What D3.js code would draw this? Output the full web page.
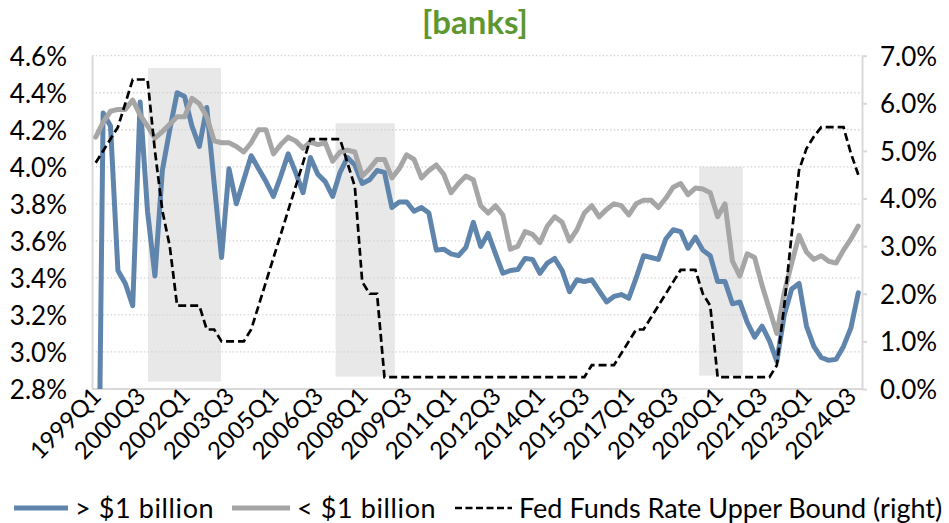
<!DOCTYPE html>
<html><head><meta charset="utf-8">
<script src="https://cdn.jsdelivr.net/npm/d3@7"></script>
<style>
body{margin:0;background:#fff}
text{font-family:Lato,"Open Sans",sans-serif;fill:#000}
</style>
</head><body>
<svg id="chart" width="949" height="523"></svg>
<script>
// ---------- data ----------
const startYear = 1999;
const nQuarters = 104; // 1999Q1 .. 2024Q4
const quarters = d3.range(nQuarters).map(i => `${startYear + Math.floor(i / 4)}Q${i % 4 + 1}`);
const tickLabels = ["1999Q1","2000Q3","2002Q1","2003Q3","2005Q1","2006Q3","2008Q1","2009Q3","2011Q1",
  "2012Q3","2014Q1","2015Q3","2017Q1","2018Q3","2020Q1","2021Q3","2023Q1","2024Q3"];

const largeBanks = [0.80,4.29,4.22,3.44,3.37,3.25,4.35,3.76,3.41,3.98,4.20,4.40,4.38,4.22,4.11,4.32,3.91,3.51,3.99,3.80,
  3.93,4.06,3.99,3.92,3.84,3.95,4.07,3.97,3.86,4.05,3.96,3.92,3.84,3.97,4.05,4.01,3.91,3.93,3.98,3.97,
  3.78,3.81,3.81,3.76,3.78,3.75,3.55,3.555,3.53,3.52,3.565,3.70,3.57,3.64,3.53,3.425,3.44,3.445,3.505,3.50,
  3.425,3.48,3.505,3.44,3.325,3.39,3.38,3.39,3.33,3.27,3.30,3.31,3.29,3.40,3.52,3.51,3.50,3.61,3.66,3.65,
  3.56,3.62,3.55,3.52,3.38,3.38,3.26,3.27,3.16,3.08,3.14,3.06,2.95,3.20,3.34,3.37,3.14,3.03,2.97,2.955,
  2.96,3.03,3.13,3.32];

const smallBanks = [4.16,4.24,4.30,4.31,4.31,4.36,4.28,4.22,4.155,4.19,4.23,4.27,4.27,4.37,4.34,4.27,4.14,4.13,4.13,4.11,
  4.08,4.13,4.20,4.20,4.07,4.12,4.16,4.14,4.10,4.135,4.12,4.13,4.03,4.08,4.09,4.08,3.95,3.99,4.04,4.04,
  3.94,3.99,4.065,4.04,3.94,3.98,4.01,3.96,3.86,3.91,3.95,3.93,3.79,3.75,3.79,3.74,3.555,3.57,3.65,3.635,
  3.59,3.68,3.73,3.70,3.60,3.66,3.75,3.79,3.73,3.77,3.80,3.79,3.74,3.80,3.82,3.82,3.78,3.83,3.89,3.91,
  3.85,3.885,3.88,3.86,3.73,3.80,3.49,3.41,3.53,3.51,3.36,3.23,3.10,3.32,3.48,3.63,3.54,3.50,3.52,3.49,
  3.48,3.55,3.61,3.68];

const fedFunds = [4.75,5.00,5.25,5.50,6.00,6.50,6.50,6.50,5.00,3.75,3.00,1.75,1.75,1.75,1.75,1.25,1.25,1.00,1.00,1.00,
  1.00,1.25,1.75,2.25,2.75,3.25,3.75,4.25,4.75,5.25,5.25,5.25,5.25,5.25,4.75,4.25,2.25,2.00,2.00,0.25,
  0.25,0.25,0.25,0.25,0.25,0.25,0.25,0.25,0.25,0.25,0.25,0.25,0.25,0.25,0.25,0.25,0.25,0.25,0.25,0.25,
  0.25,0.25,0.25,0.25,0.25,0.25,0.25,0.50,0.50,0.50,0.50,0.75,1.00,1.25,1.25,1.50,1.75,2.00,2.25,2.50,
  2.50,2.50,2.00,1.75,0.25,0.25,0.25,0.25,0.25,0.25,0.25,0.25,0.50,1.75,3.25,4.60,5.05,5.30,5.50,5.50,
  5.50,5.50,4.95,4.50];

// shaded periods, in quarter-index units, heights on left axis
const shadeStart = [7.07, 32.4, 81.5];
const shadeEnd   = [16.92, 40.4, 87.4];
const shadeTop   = [4.534, 4.235, 4.0];
const shadeBottom= [2.84, 2.867, 2.872];

const leftTicks  = [2.8,3.0,3.2,3.4,3.6,3.8,4.0,4.2,4.4,4.6];
const rightTicks = [0,1,2,3,4,5,6,7];
const seriesNames = ["> $1 billion","< $1 billion","Fed Funds Rate Upper Bound (right)"];
const title = "[banks]";

// ---------- layout ----------
const plot = {left: 92, right: 862, top: 55.7, bottom: 389};
const svg = d3.select("#chart");

const xBand = d3.scaleBand().domain(quarters).range([plot.left, plot.right]).padding(0);
const bw = xBand.bandwidth();
const xc = q => xBand(q) + bw / 2;
const xIdx = d3.scaleLinear().domain([0, nQuarters - 1]).range([xc(quarters[0]), xc(quarters[nQuarters - 1])]);
const yL = d3.scaleLinear().domain([2.8, 4.6]).range([plot.bottom, plot.top]);
const yR = d3.scaleLinear().domain([0, 7]).range([plot.bottom, plot.top]);

svg.append("defs").append("clipPath").attr("id","clip").append("rect")
  .attr("x", plot.left).attr("y", plot.top - 10).attr("width", plot.right - plot.left).attr("height", plot.bottom - plot.top + 10);

// title
svg.append("text").attr("x", 475).attr("y", 34).attr("text-anchor","middle")
  .style("font-size","33px").style("font-weight","bold").style("fill","#5e9732").text(title);

// shading
svg.append("g").selectAll("rect").data(shadeStart).join("rect")
  .attr("x", d => xIdx(d))
  .attr("width", (d,i) => xIdx(shadeEnd[i]) - xIdx(d))
  .attr("y", (d,i) => yL(shadeTop[i]))
  .attr("height", (d,i) => yL(shadeBottom[i]) - yL(shadeTop[i]))
  .attr("fill", "#e8e8e8");

// gridlines
svg.append("g").selectAll("line").data(leftTicks.filter(t => t > 2.8)).join("line")
  .attr("x1", plot.left).attr("x2", plot.right)
  .attr("y1", d => yL(d)).attr("y2", d => yL(d))
  .attr("stroke", "#d4d4d4").attr("stroke-width", 1.3).attr("stroke-dasharray", "1.5,2.2");

// axes
const gL = svg.append("g").attr("transform", `translate(${plot.left},0)`)
  .call(d3.axisLeft(yL).tickValues(leftTicks).tickFormat(d => d.toFixed(1) + "%").tickSize(0).tickPadding(25));
gL.select(".domain").attr("stroke", "#d9d9d9").attr("stroke-width", 2);
gL.selectAll("text").style("font-size", "26px").style("font-family", "Lato,sans-serif").attr("dy", "0.36em");

const gR = svg.append("g").attr("transform", `translate(${plot.right},0)`)
  .call(d3.axisRight(yR).tickValues(rightTicks).tickFormat(d => d.toFixed(1) + "%").tickSize(5).tickPadding(13).tickSizeOuter(0));
gR.select(".domain").attr("stroke", "#d9d9d9").attr("stroke-width", 2);
gR.selectAll("line").attr("stroke", "#d9d9d9").attr("stroke-width", 2);
gR.selectAll("text").style("font-size", "26px").style("font-family", "Lato,sans-serif").attr("dy", "0.36em");

svg.append("line").attr("x1", plot.left).attr("x2", plot.right).attr("y1", plot.bottom).attr("y2", plot.bottom)
  .attr("stroke", "#d9d9d9").attr("stroke-width", 2);

// x tick labels
svg.append("g").selectAll("text").data(tickLabels).join("text")
  .attr("transform", d => `translate(${xc(d) + 7},${plot.bottom + 9}) rotate(-45)`)
  .attr("text-anchor", "end").style("font-size", "24px")
  .text(d => d);

// lines
const lineL = d3.line().x((d,i) => xc(quarters[i])).y(d => yL(d));
const lineR = d3.line().x((d,i) => xc(quarters[i])).y(d => yR(d));
const gLines = svg.append("g").attr("clip-path", "url(#clip)");
gLines.append("path").datum(largeBanks).attr("d", lineL).attr("fill","none")
  .attr("stroke", "#6085ad").attr("stroke-width", 5).attr("stroke-linejoin","round").attr("stroke-linecap","round");
gLines.append("path").datum(smallBanks).attr("d", lineL).attr("fill","none")
  .attr("stroke", "#a6a6a6").attr("stroke-width", 5).attr("stroke-linejoin","round").attr("stroke-linecap","round");
gLines.append("path").datum(fedFunds).attr("d", lineR).attr("fill","none")
  .attr("stroke", "#000").attr("stroke-width", 2.7).attr("stroke-dasharray", "8,4");

// legend
const legend = svg.append("g").attr("transform", "translate(0,508)");
const legItems = [
  {x: 14, w: 54, color: "#6085ad", sw: 5, dash: null},
  {x: 232, w: 58, color: "#a6a6a6", sw: 5, dash: null},
  {x: 455, w: 57, color: "#000", sw: 2.6, dash: "7,3.5"}
];
const textX = [75, 297, 519];
legItems.forEach((it, i) => {
  legend.append("line").attr("x1", it.x).attr("x2", it.x + it.w).attr("y1", 0).attr("y2", 0)
    .attr("stroke", it.color).attr("stroke-width", it.sw).attr("stroke-dasharray", it.dash);
  legend.append("text").attr("x", textX[i]).attr("y", 0).attr("dy","0.36em").style("font-size","27px")
    .style("letter-spacing", i < 2 ? "0.6px" : "0px").text(seriesNames[i]);
});
</script>
</body></html>
